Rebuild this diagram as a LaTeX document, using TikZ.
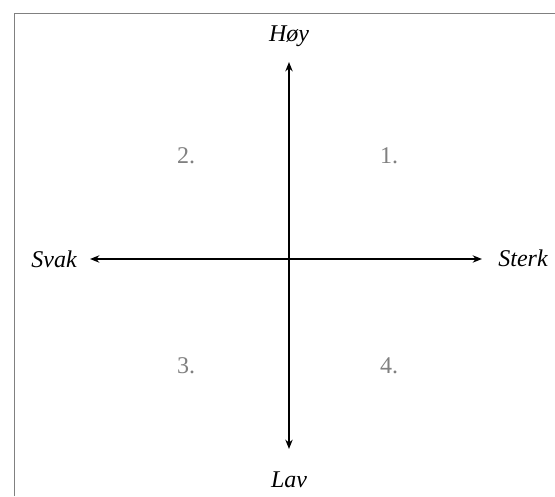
\documentclass[tikz,border=0pt]{standalone}
\usepackage{fontspec}
\setmainfont{Liberation Serif}
\usetikzlibrary{arrows.meta}
\begin{document}
\begin{tikzpicture}[x=0.75pt,y=-0.75pt,
  axislab/.style={font=\fontsize{18}{20}\selectfont\itshape, inner sep=0pt},
  quad/.style={font=\fontsize{18}{20}\selectfont, text=black!50, inner sep=0pt},
  axis/.style={line width=1.2pt, {Stealth[length=7pt,width=5.5pt]}-{Stealth[length=7pt,width=5.5pt]}}]
\useasboundingbox (0,0) rectangle (555,496);
\fill[white] (0,0) rectangle (555,496);
\draw[black!50, line width=1.3pt] (14.5,496) -- (14.5,13.5) -- (555,13.5);
\node[axislab] (hoy) at (289,36) {Høy};
\node[axislab] (lav) at (289,480) {Lav};
\node[axislab] (svak) at (54,259) {Svak};
\node[axislab] (sterk) at (523,258) {Sterk};
\coordinate (top) at (289,62);
\coordinate (bot) at (289,449);
\coordinate (lft) at (90,259);
\coordinate (rgt) at (482,259);
\draw[axis] (bot) -- (top);
\draw[axis] (lft) -- (rgt);
\node[quad] (q1) at (389,156) {1.};
\node[quad] (q2) at (186,156) {2.};
\node[quad] (q3) at (186,366) {3.};
\node[quad] (q4) at (389,366) {4.};
\end{tikzpicture}
\end{document}
